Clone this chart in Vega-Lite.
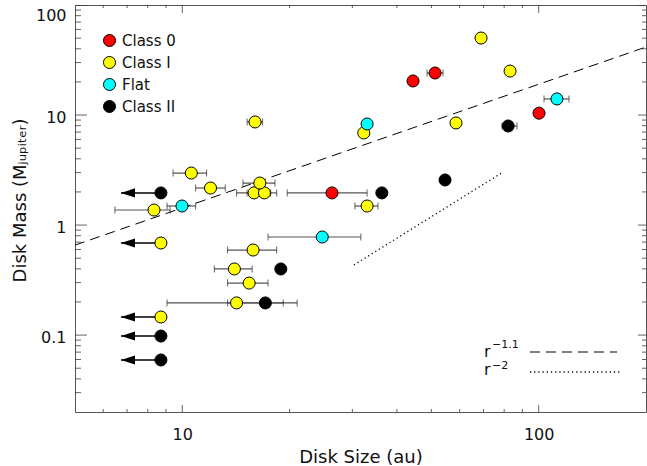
{
  "$schema": "https://vega.github.io/schema/vega-lite/v6.json",
  "width": 571,
  "height": 407,
  "autosize": {"type": "none"},
  "padding": {"left": 75, "top": 5, "right": 1, "bottom": 54},
  "config": {
    "view": {"stroke": "#555", "strokeWidth": 1},
    "font": "DejaVu Sans",
    "axis": {
      "grid": false,
      "labelFont": "DejaVu Sans",
      "titleFont": "DejaVu Sans",
      "labelFontSize": 16,
      "titleFontSize": 18,
      "titleFontWeight": "normal",
      "labelColor": "#111",
      "titleColor": "#111",
      "labelOverlap": false
    }
  },
  "datasets": {
    "disks": [
      {"size": 68.9, "mass": 50.1, "cls": "Class I"},
      {"size": 83.1, "mass": 25.1, "cls": "Class I"},
      {"size": 16.0, "mass": 8.65, "cls": "Class I", "lo": 15.2, "hi": 16.8},
      {"size": 58.6, "mass": 8.47, "cls": "Class I"},
      {"size": 32.3, "mass": 6.87, "cls": "Class I"},
      {"size": 10.6, "mass": 2.97, "cls": "Class I", "lo": 9.42, "hi": 11.7},
      {"size": 12.0, "mass": 2.17, "cls": "Class I", "lo": 10.9, "hi": 13.2},
      {"size": 15.9, "mass": 1.96, "cls": "Class I", "lo": 14.2, "hi": 17.7},
      {"size": 17.0, "mass": 1.96, "cls": "Class I", "lo": 15.2, "hi": 18.4},
      {"size": 16.5, "mass": 2.41, "cls": "Class I", "lo": 14.8, "hi": 18.2},
      {"size": 33.0, "mass": 1.49, "cls": "Class I", "lo": 30.5, "hi": 35.4},
      {"size": 8.33, "mass": 1.37, "cls": "Class I", "lo": 6.47, "hi": 9.24},
      {"size": 8.71, "mass": 0.687, "cls": "Class I", "lim": 6.73},
      {"size": 15.8, "mass": 0.593, "cls": "Class I", "lo": 13.4, "hi": 18.4},
      {"size": 14.0, "mass": 0.399, "cls": "Class I", "lo": 12.3, "hi": 15.7},
      {"size": 15.4, "mass": 0.297, "cls": "Class I", "lo": 13.4, "hi": 17.4},
      {"size": 14.2, "mass": 0.196, "cls": "Class I", "lo": 9.06, "hi": 19.2},
      {"size": 8.71, "mass": 0.146, "cls": "Class I", "lim": 6.73},
      {"size": 44.4, "mass": 20.4, "cls": "Class 0"},
      {"size": 51.2, "mass": 24.1, "cls": "Class 0", "lo": 48.6, "hi": 53.9},
      {"size": 100.2, "mass": 10.4, "cls": "Class 0"},
      {"size": 26.3, "mass": 1.96, "cls": "Class 0", "lo": 19.7, "hi": 33.0},
      {"size": 33.0, "mass": 8.29, "cls": "Flat"},
      {"size": 112.5, "mass": 14.0, "cls": "Flat", "lo": 103.5, "hi": 121.6},
      {"size": 9.98, "mass": 1.49, "cls": "Flat", "lo": 9.06, "hi": 10.9},
      {"size": 24.7, "mass": 0.779, "cls": "Flat", "lo": 17.4, "hi": 31.7},
      {"size": 82.1, "mass": 7.95, "cls": "Class II", "lo": 78.9, "hi": 86.9},
      {"size": 54.6, "mass": 2.57, "cls": "Class II"},
      {"size": 36.3, "mass": 1.96, "cls": "Class II"},
      {"size": 8.71, "mass": 1.96, "cls": "Class II", "lim": 6.73},
      {"size": 18.9, "mass": 0.399, "cls": "Class II"},
      {"size": 17.1, "mass": 0.196, "cls": "Class II", "lo": 13.4, "hi": 21.0},
      {"size": 8.71, "mass": 0.098, "cls": "Class II", "lim": 6.73},
      {"size": 8.71, "mass": 0.0594, "cls": "Class II", "lim": 6.73}
    ],
    "fits": [
      {"size": 5, "mass": 0.657, "law": "r-1.1"},
      {"size": 200, "mass": 41.5, "law": "r-1.1"},
      {"size": 30.3, "mass": 0.4335, "law": "r-2"},
      {"size": 79.4, "mass": 3.03, "law": "r-2"}
    ],
    "key": [
      {"size": 94.5, "mass": 0.0702, "law": "r-1.1"},
      {"size": 165.9, "mass": 0.0702, "law": "r-1.1"},
      {"size": 94.5, "mass": 0.0462, "law": "r-2"},
      {"size": 171.3, "mass": 0.0462, "law": "r-2"}
    ],
    "keyText": [
      {"size": 70.2, "mass": 0.0632, "text": "r", "role": "base"},
      {"size": 74.0, "mass": 0.0763, "text": "−1.1", "role": "sup"},
      {"size": 70.2, "mass": 0.0434, "text": "r", "role": "base"},
      {"size": 74.0, "mass": 0.0492, "text": "−2", "role": "sup"}
    ],
    "axisTicks": [
      {"axis": "x", "kind": "major", "value": 10},
      {"axis": "x", "kind": "major", "value": 100},
      {"axis": "x", "kind": "minor", "value": 6},
      {"axis": "x", "kind": "minor", "value": 7},
      {"axis": "x", "kind": "minor", "value": 8},
      {"axis": "x", "kind": "minor", "value": 9},
      {"axis": "x", "kind": "minor", "value": 20},
      {"axis": "x", "kind": "minor", "value": 30},
      {"axis": "x", "kind": "minor", "value": 40},
      {"axis": "x", "kind": "minor", "value": 50},
      {"axis": "x", "kind": "minor", "value": 60},
      {"axis": "x", "kind": "minor", "value": 70},
      {"axis": "x", "kind": "minor", "value": 80},
      {"axis": "x", "kind": "minor", "value": 90},
      {"axis": "y", "kind": "major", "value": 0.1},
      {"axis": "y", "kind": "major", "value": 1},
      {"axis": "y", "kind": "major", "value": 10},
      {"axis": "y", "kind": "major", "value": 100},
      {"axis": "y", "kind": "minor", "value": 0.03},
      {"axis": "y", "kind": "minor", "value": 0.04},
      {"axis": "y", "kind": "minor", "value": 0.05},
      {"axis": "y", "kind": "minor", "value": 0.06},
      {"axis": "y", "kind": "minor", "value": 0.07},
      {"axis": "y", "kind": "minor", "value": 0.08},
      {"axis": "y", "kind": "minor", "value": 0.09},
      {"axis": "y", "kind": "minor", "value": 0.2},
      {"axis": "y", "kind": "minor", "value": 0.3},
      {"axis": "y", "kind": "minor", "value": 0.4},
      {"axis": "y", "kind": "minor", "value": 0.5},
      {"axis": "y", "kind": "minor", "value": 0.6},
      {"axis": "y", "kind": "minor", "value": 0.7},
      {"axis": "y", "kind": "minor", "value": 0.8},
      {"axis": "y", "kind": "minor", "value": 0.9},
      {"axis": "y", "kind": "minor", "value": 2},
      {"axis": "y", "kind": "minor", "value": 3},
      {"axis": "y", "kind": "minor", "value": 4},
      {"axis": "y", "kind": "minor", "value": 5},
      {"axis": "y", "kind": "minor", "value": 6},
      {"axis": "y", "kind": "minor", "value": 7},
      {"axis": "y", "kind": "minor", "value": 8},
      {"axis": "y", "kind": "minor", "value": 9},
      {"axis": "y", "kind": "minor", "value": 20},
      {"axis": "y", "kind": "minor", "value": 30},
      {"axis": "y", "kind": "minor", "value": 40},
      {"axis": "y", "kind": "minor", "value": 50},
      {"axis": "y", "kind": "minor", "value": 60},
      {"axis": "y", "kind": "minor", "value": 70},
      {"axis": "y", "kind": "minor", "value": 80},
      {"axis": "y", "kind": "minor", "value": 90}
    ]
  },
  "resolve": {"axis": {"x": "independent", "y": "independent"}},
  "layer": [
    {
      "data": {"name": "disks"},
      "transform": [{"filter": "isValid(datum.lo)"}],
      "mark": {"type": "rule", "color": "#555", "strokeWidth": 1.2},
      "encoding": {
        "x": {
          "field": "lo", "type": "quantitative",
          "scale": {"type": "log", "domain": [5, 200], "nice": false},
          "axis": {
            "orient": "bottom", "values": [10, 100], "format": "~g",
            "ticks": false, "tickSize": 0, "domain": false, "labelPadding": 14, "labelFlush": false,
            "title": "Disk Size (au)", "titlePadding": 6
          }
        },
        "x2": {"field": "hi"},
        "y": {
          "field": "mass", "type": "quantitative",
          "scale": {"type": "log", "domain": [0.02, 100], "nice": false},
          "axis": {
            "orient": "left", "values": [0.1, 1, 10, 100], "format": "~g",
            "ticks": false, "tickSize": 0, "domain": false, "labelPadding": 9, "labelFlush": true, "labelOffset": 2,
            "title": "Disk Mass (Mⱼᵤₚᵢₜₑᵣ)", "titleAngle": 270,
            "titleX": -50, "titleY": 195, "titleBaseline": "alphabetic", "titleAlign": "center"
          }
        }
      }
    },
    {
      "data": {"name": "disks"},
      "transform": [{"filter": "isValid(datum.lo)"}],
      "mark": {"type": "tick", "orient": "vertical", "size": 7, "thickness": 1, "color": "#222"},
      "encoding": {
        "x": {"field": "lo", "type": "quantitative", "scale": {"type": "log", "domain": [5, 200], "nice": false}, "axis": null},
        "y": {"field": "mass", "type": "quantitative", "scale": {"type": "log", "domain": [0.02, 100], "nice": false}, "axis": null}
      }
    },
    {
      "data": {"name": "disks"},
      "transform": [{"filter": "isValid(datum.hi)"}],
      "mark": {"type": "tick", "orient": "vertical", "size": 7, "thickness": 1, "color": "#222"},
      "encoding": {
        "x": {"field": "hi", "type": "quantitative", "scale": {"type": "log", "domain": [5, 200], "nice": false}, "axis": null},
        "y": {"field": "mass", "type": "quantitative", "scale": {"type": "log", "domain": [0.02, 100], "nice": false}, "axis": null}
      }
    },
    {
      "data": {"name": "axisTicks"},
      "transform": [{"filter": "datum.axis == 'x' && datum.kind == 'major'"}],
      "mark": {"type": "tick", "orient": "vertical", "size": 14, "thickness": 1, "color": "#222", "clip": true},
      "encoding": {
        "x": {"field": "value", "type": "quantitative", "scale": {"type": "log", "domain": [5, 200], "nice": false}, "axis": null},
        "y": {"datum": 0.02, "type": "quantitative", "scale": {"type": "log", "domain": [0.02, 100], "nice": false}, "axis": null}
      }
    },
    {
      "data": {"name": "axisTicks"},
      "transform": [{"filter": "datum.axis == 'x' && datum.kind == 'major'"}],
      "mark": {"type": "tick", "orient": "vertical", "size": 16, "thickness": 1, "color": "#222", "clip": true},
      "encoding": {
        "x": {"field": "value", "type": "quantitative", "scale": {"type": "log", "domain": [5, 200], "nice": false}, "axis": null},
        "y": {"datum": 100, "type": "quantitative", "scale": {"type": "log", "domain": [0.02, 100], "nice": false}, "axis": null}
      }
    },
    {
      "data": {"name": "axisTicks"},
      "transform": [{"filter": "datum.axis == 'x' && datum.kind == 'minor'"}],
      "mark": {"type": "tick", "orient": "vertical", "size": 6, "thickness": 1, "color": "#222", "clip": true},
      "encoding": {
        "x": {"field": "value", "type": "quantitative", "scale": {"type": "log", "domain": [5, 200], "nice": false}, "axis": null},
        "y": {"datum": 0.02, "type": "quantitative", "scale": {"type": "log", "domain": [0.02, 100], "nice": false}, "axis": null}
      }
    },
    {
      "data": {"name": "axisTicks"},
      "transform": [{"filter": "datum.axis == 'x' && datum.kind == 'minor'"}],
      "mark": {"type": "tick", "orient": "vertical", "size": 6, "thickness": 1, "color": "#222", "clip": true},
      "encoding": {
        "x": {"field": "value", "type": "quantitative", "scale": {"type": "log", "domain": [5, 200], "nice": false}, "axis": null},
        "y": {"datum": 100, "type": "quantitative", "scale": {"type": "log", "domain": [0.02, 100], "nice": false}, "axis": null}
      }
    },
    {
      "data": {"name": "axisTicks"},
      "transform": [{"filter": "datum.axis == 'y' && datum.kind == 'major'"}],
      "mark": {"type": "tick", "orient": "horizontal", "size": 24, "thickness": 1, "color": "#222", "clip": true},
      "encoding": {
        "x": {"datum": 5, "type": "quantitative", "scale": {"type": "log", "domain": [5, 200], "nice": false}, "axis": null},
        "y": {"field": "value", "type": "quantitative", "scale": {"type": "log", "domain": [0.02, 100], "nice": false}, "axis": null}
      }
    },
    {
      "data": {"name": "axisTicks"},
      "transform": [{"filter": "datum.axis == 'y' && datum.kind == 'major'"}],
      "mark": {"type": "tick", "orient": "horizontal", "size": 16, "thickness": 1, "color": "#222", "clip": true},
      "encoding": {
        "x": {"datum": 200, "type": "quantitative", "scale": {"type": "log", "domain": [5, 200], "nice": false}, "axis": null},
        "y": {"field": "value", "type": "quantitative", "scale": {"type": "log", "domain": [0.02, 100], "nice": false}, "axis": null}
      }
    },
    {
      "data": {"name": "axisTicks"},
      "transform": [{"filter": "datum.axis == 'y' && datum.kind == 'minor'"}],
      "mark": {"type": "tick", "orient": "horizontal", "size": 12, "thickness": 1, "color": "#222", "clip": true},
      "encoding": {
        "x": {"datum": 5, "type": "quantitative", "scale": {"type": "log", "domain": [5, 200], "nice": false}, "axis": null},
        "y": {"field": "value", "type": "quantitative", "scale": {"type": "log", "domain": [0.02, 100], "nice": false}, "axis": null}
      }
    },
    {
      "data": {"name": "axisTicks"},
      "transform": [{"filter": "datum.axis == 'y' && datum.kind == 'minor'"}],
      "mark": {"type": "tick", "orient": "horizontal", "size": 8, "thickness": 1, "color": "#222", "clip": true},
      "encoding": {
        "x": {"datum": 200, "type": "quantitative", "scale": {"type": "log", "domain": [5, 200], "nice": false}, "axis": null},
        "y": {"field": "value", "type": "quantitative", "scale": {"type": "log", "domain": [0.02, 100], "nice": false}, "axis": null}
      }
    },
    {
      "data": {"name": "disks"},
      "transform": [{"filter": "isValid(datum.lim)"}],
      "mark": {"type": "rule", "color": "black", "strokeWidth": 1.5},
      "encoding": {
        "x": {"field": "lim", "type": "quantitative", "scale": {"type": "log", "domain": [5, 200], "nice": false}, "axis": null},
        "x2": {"field": "size"},
        "y": {"field": "mass", "type": "quantitative", "scale": {"type": "log", "domain": [0.02, 100], "nice": false}, "axis": null}
      }
    },
    {
      "data": {"name": "disks"},
      "transform": [{"filter": "isValid(datum.lim)"}],
      "mark": {"type": "point", "shape": "M0,0L2,-0.65L2,0.65Z", "size": 196, "filled": true, "color": "black", "opacity": 1},
      "encoding": {
        "x": {"field": "lim", "type": "quantitative", "scale": {"type": "log", "domain": [5, 200], "nice": false}, "axis": null},
        "y": {"field": "mass", "type": "quantitative", "scale": {"type": "log", "domain": [0.02, 100], "nice": false}, "axis": null}
      }
    },
    {
      "data": {"name": "fits"},
      "transform": [{"filter": "datum.law == 'r-1.1'"}],
      "mark": {"type": "line", "color": "black", "strokeWidth": 1, "strokeDash": [10, 6]},
      "encoding": {
        "x": {"field": "size", "type": "quantitative", "scale": {"type": "log", "domain": [5, 200], "nice": false}, "axis": null},
        "y": {"field": "mass", "type": "quantitative", "scale": {"type": "log", "domain": [0.02, 100], "nice": false}, "axis": null}
      }
    },
    {
      "data": {"name": "fits"},
      "transform": [{"filter": "datum.law == 'r-2'"}],
      "mark": {"type": "line", "color": "black", "strokeWidth": 1.3, "strokeDash": [1.2, 3]},
      "encoding": {
        "x": {"field": "size", "type": "quantitative", "scale": {"type": "log", "domain": [5, 200], "nice": false}, "axis": null},
        "y": {"field": "mass", "type": "quantitative", "scale": {"type": "log", "domain": [0.02, 100], "nice": false}, "axis": null}
      }
    },
    {
      "data": {"name": "key"},
      "transform": [{"filter": "datum.law == 'r-1.1'"}],
      "mark": {"type": "line", "color": "black", "strokeWidth": 1, "strokeDash": [10, 6]},
      "encoding": {
        "x": {"field": "size", "type": "quantitative", "scale": {"type": "log", "domain": [5, 200], "nice": false}, "axis": null},
        "y": {"field": "mass", "type": "quantitative", "scale": {"type": "log", "domain": [0.02, 100], "nice": false}, "axis": null}
      }
    },
    {
      "data": {"name": "key"},
      "transform": [{"filter": "datum.law == 'r-2'"}],
      "mark": {"type": "line", "color": "black", "strokeWidth": 1.3, "strokeDash": [1.2, 3]},
      "encoding": {
        "x": {"field": "size", "type": "quantitative", "scale": {"type": "log", "domain": [5, 200], "nice": false}, "axis": null},
        "y": {"field": "mass", "type": "quantitative", "scale": {"type": "log", "domain": [0.02, 100], "nice": false}, "axis": null}
      }
    },
    {
      "data": {"name": "keyText"},
      "transform": [{"filter": "datum.role == 'base'"}],
      "mark": {"type": "text", "align": "left", "baseline": "alphabetic", "font": "DejaVu Sans", "fontSize": 16, "color": "#111"},
      "encoding": {
        "x": {"field": "size", "type": "quantitative", "scale": {"type": "log", "domain": [5, 200], "nice": false}, "axis": null},
        "y": {"field": "mass", "type": "quantitative", "scale": {"type": "log", "domain": [0.02, 100], "nice": false}, "axis": null},
        "text": {"field": "text"}
      }
    },
    {
      "data": {"name": "keyText"},
      "transform": [{"filter": "datum.role == 'sup'"}],
      "mark": {"type": "text", "align": "left", "baseline": "alphabetic", "font": "DejaVu Sans", "fontSize": 11, "color": "#111"},
      "encoding": {
        "x": {"field": "size", "type": "quantitative", "scale": {"type": "log", "domain": [5, 200], "nice": false}, "axis": null},
        "y": {"field": "mass", "type": "quantitative", "scale": {"type": "log", "domain": [0.02, 100], "nice": false}, "axis": null},
        "text": {"field": "text"}
      }
    },
    {
      "data": {"name": "disks"},
      "mark": {"type": "point", "shape": "circle", "filled": true, "size": 145, "stroke": "black", "strokeWidth": 1, "opacity": 1},
      "encoding": {
        "x": {"field": "size", "type": "quantitative", "scale": {"type": "log", "domain": [5, 200], "nice": false}, "axis": null},
        "y": {"field": "mass", "type": "quantitative", "scale": {"type": "log", "domain": [0.02, 100], "nice": false}, "axis": null},
        "fill": {
          "field": "cls", "type": "nominal",
          "scale": {"domain": ["Class 0", "Class I", "Flat", "Class II"], "range": ["#ff0000", "#ffff00", "#00ffff", "#000000"]},
          "legend": {
            "orient": "none", "legendX": 27, "legendY": 28, "title": null,
            "labelFont": "DejaVu Sans", "labelFontSize": 15, "labelColor": "#111",
            "symbolType": "circle", "symbolSize": 145, "symbolStrokeColor": "black", "symbolStrokeWidth": 1,
            "symbolOpacity": 1, "rowPadding": 5, "labelOffset": 5, "padding": 0
          }
        }
      }
    }
  ]
}
